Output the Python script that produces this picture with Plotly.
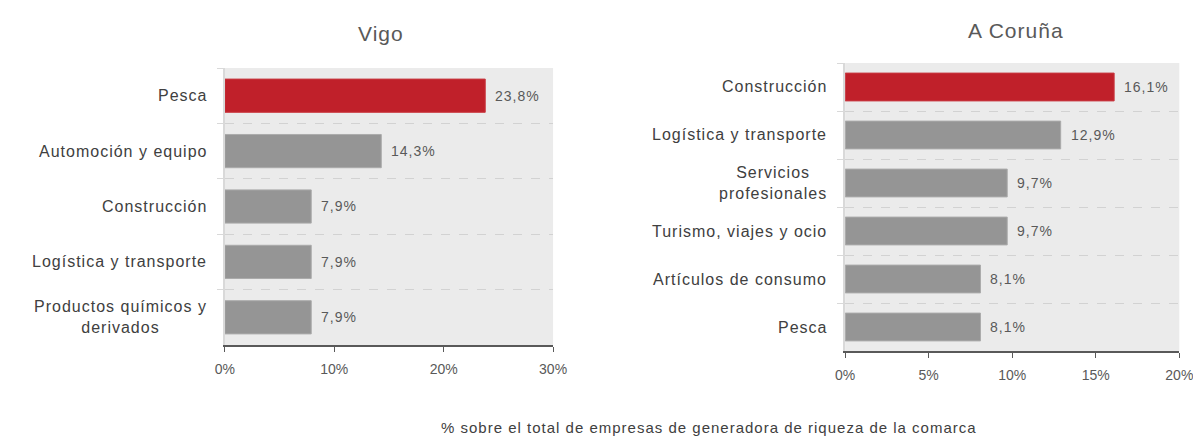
import plotly.graph_objects as go

# Vigo: sectores con más empresas generadoras de riqueza
vigo_sectores = ["Pesca", "Automoción y equipo", "Construcción",
                 "Logística y transporte", "Productos químicos y<br>derivados"]
vigo_valores = [23.8, 14.3, 7.9, 7.9, 7.9]

# A Coruña
coruna_sectores = ["Construcción", "Logística y transporte", "Servicios<br>profesionales",
                   "Turismo, viajes y ocio", "Artículos de consumo", "Pesca"]
coruna_valores = [16.1, 12.9, 9.7, 9.7, 8.1, 8.1]

ROJO = "#C0202A"
GRIS = "#959595"
FONT = "Liberation Sans, Arial, sans-serif"

W, H = 1201, 436


def colores(vals):
    return [ROJO if i == 0 else GRIS for i in range(len(vals))]


def bordes(vals):
    return ["#C93A42" if i == 0 else "#ABABAB" for i in range(len(vals))]


def espaciado(txt, px):
    # el original tiene las letras algo separadas
    return "<br>".join(f"<span style='letter-spacing:{px}px'>{t}</span>" for t in txt.split("<br>"))


def etiqueta(v):
    return f"{v:.1f}".replace(".", ",") + "%"


fig = go.Figure()

fig.add_trace(go.Bar(
    x=vigo_valores, y=vigo_sectores, orientation="h", width=0.6,
    marker=dict(color=colores(vigo_valores), line=dict(color=bordes(vigo_valores), width=1)),
    xaxis="x", yaxis="y", hoverinfo="skip",
))
fig.add_trace(go.Bar(
    x=coruna_valores, y=coruna_sectores, orientation="h", width=0.58,
    marker=dict(color=colores(coruna_valores), line=dict(color=bordes(coruna_valores), width=1)),
    xaxis="x2", yaxis="y2", hoverinfo="skip",
))

xcomun = dict(
    showgrid=False, zeroline=False, showline=True, linecolor="#595959", linewidth=1.5,
    ticks="outside", ticklen=5, tickcolor="#595959", ticksuffix="%",
    tickfont=dict(family=FONT, size=14, color="#595959"), ticklabelstandoff=5,
)
ycomun = dict(
    type="category", autorange="reversed", showticklabels=False,
    showgrid=True, gridcolor="#D2D2D2", griddash="dash", gridwidth=1,
    tickson="boundaries", ticks="outside", ticklen=6, tickcolor="#D9D9D9",
    showline=True, linecolor="#D9D9D9", linewidth=2, zeroline=False,
)

fig.update_layout(
    width=W, height=H,
    margin=dict(l=0, r=0, t=0, b=0),
    paper_bgcolor="white", plot_bgcolor="#EBEBEB",
    showlegend=False, separators=",.",
    font=dict(family=FONT, color="#404040"),
    xaxis=dict(domain=[211 / W, 546 / W], range=[0, 30], dtick=10, anchor="y", **xcomun),
    yaxis=dict(domain=[(H - 337) / H, (H - 60) / H], anchor="x", **ycomun),
    xaxis2=dict(domain=[844 / W, 1185 / W], range=[0, 20], dtick=5, anchor="y2", **xcomun),
    yaxis2=dict(domain=[(H - 343) / H, (H - 55) / H], anchor="x2", **ycomun),
)

# etiquetas de categoría (centradas como en el original)
for sectores, xr, yr in [(vigo_sectores, "x domain", "y"), (coruna_sectores, "x2 domain", "y2")]:
    for s in sectores:
        fig.add_annotation(x=-0.048, y=s, xref=xr, yref=yr, text=espaciado(s, 1), showarrow=False,
                           xanchor="right", yanchor="middle", align="center",
                           font=dict(family=FONT, size=16, color="#404040"))

# etiquetas de valor
for sectores, valores, xr, yr in [(vigo_sectores, vigo_valores, "x", "y"),
                                  (coruna_sectores, coruna_valores, "x2", "y2")]:
    for s, v in zip(sectores, valores):
        fig.add_annotation(x=v, y=s, xref=xr, yref=yr, text=espaciado(etiqueta(v), 1),
                           showarrow=False, xanchor="left", yanchor="middle", xshift=8,
                           font=dict(family=FONT, size=14, color="#595959"))

# títulos
fig.add_annotation(x=370 / W, y=(H - 26) / H, xref="paper", yref="paper",
                   text=espaciado("Vigo", 1), showarrow=False,
                   xanchor="center", yanchor="middle",
                   font=dict(family=FONT, size=21, color="#595959"))
fig.add_annotation(x=1018 / W, y=(H - 22) / H, xref="paper", yref="paper",
                   text=espaciado("A Coruña", 1), showarrow=False,
                   xanchor="center", yanchor="middle",
                   font=dict(family=FONT, size=21, color="#595959"))

fig.add_annotation(x=705 / W, y=(H - 419) / H, xref="paper", yref="paper",
                   text=espaciado("% sobre el total de empresas de generadora de riqueza de la comarca", 1),
                   showarrow=False, xanchor="center", yanchor="middle",
                   font=dict(family=FONT, size=15, color="#404040"))

fig.write_html("out.html")
